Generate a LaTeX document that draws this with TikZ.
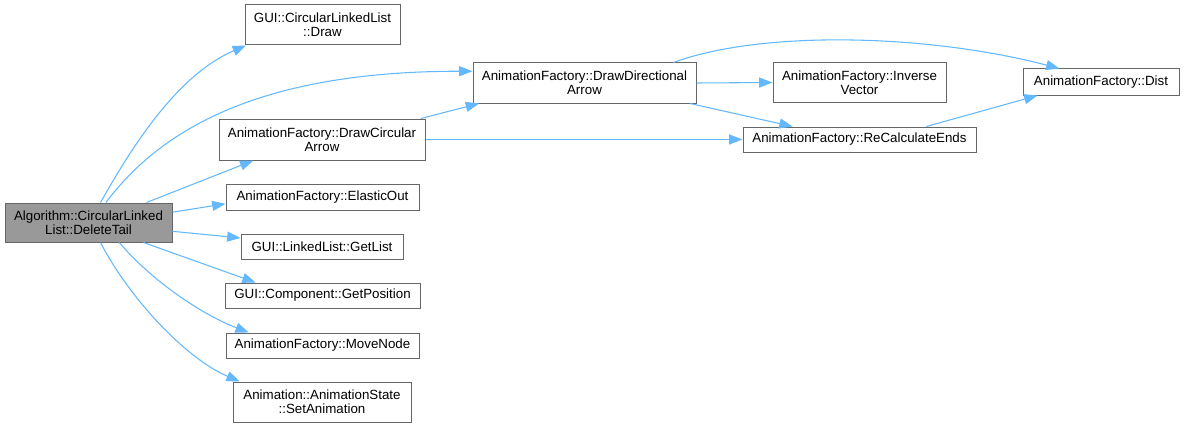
\documentclass[tikz,border=0pt]{standalone}
\usepackage{fontspec}
\setmainfont{Liberation Sans}
\usetikzlibrary{arrows.meta}
\definecolor{edgec}{HTML}{63B8FF}
\definecolor{bordc}{HTML}{666666}
\definecolor{rootc}{HTML}{999999}
\begin{document}
\begin{tikzpicture}[x=0.75pt,y=-0.75pt,
  box/.style={draw=bordc,line width=0.75pt,fill=white,inner sep=0pt,align=center,font=\fontsize{10}{10.8}\selectfont},
  rootbox/.style={box,fill=rootc},
  edge/.style={draw=edgec,line width=0.8pt,-{Triangle[length=10pt,width=7.5pt]}}]
\useasboundingbox (0,0) rectangle (1184,428);
\node[rootbox,minimum width=125.25pt,minimum height=29.25pt] (root) at (88.5,222.5) {Algorithm::CircularLinked\\List::DeleteTail};
\node[box,minimum width=116.25pt,minimum height=30pt] (draw) at (322.5,25) {GUI::CircularLinkedList\\::Draw};
\node[box,minimum width=154.5pt,minimum height=30.75pt] (dca) at (322,139.5) {AnimationFactory::DrawCircular\\Arrow};
\node[box,minimum width=167.25pt,minimum height=30pt] (dda) at (584.5,83) {AnimationFactory::DrawDirectional\\Arrow};
\node[box,minimum width=129.75pt,minimum height=29.25pt] (iv) at (859.5,82.5) {AnimationFactory::Inverse\\Vector};
\node[box,minimum width=117pt,minimum height=19.5pt] (dist) at (1101,82) {AnimationFactory::Dist};
\node[box,minimum width=174.75pt,minimum height=18.75pt] (rce) at (859.5,139.5) {AnimationFactory::ReCalculateEnds};
\node[box,minimum width=144.75pt,minimum height=19.5pt] (eo) at (322.5,197) {AnimationFactory::ElasticOut};
\node[box,minimum width=121.5pt,minimum height=18.75pt] (gl) at (322,246.5) {GUI::LinkedList::GetList};
\node[box,minimum width=146.25pt,minimum height=18.75pt] (gp) at (322.5,295.5) {GUI::Component::GetPosition};
\node[box,minimum width=144.75pt,minimum height=18.75pt] (mn) at (322.5,345.5) {AnimationFactory::MoveNode};
\node[box,minimum width=133.5pt,minimum height=30pt] (sa) at (322,402) {Animation::AnimationState\\::SetAnimation};
% edges
\draw[edge] (root.59.5) .. controls +(30,-53) and +(-70,30) .. (draw.195.4);
\draw[edge] (root.49.8) .. controls +(55,-73) and +(-213,0) .. (dda.174.4);
\draw[edge] (root.19.7) -- (dca.197.5);
\draw[edge] (root.7.2) -- (eo.184.7);
\draw[edge] (root.-6.5) -- (gl.174);
\draw[edge] (root.-20.7) -- (gp.169);
\draw[edge] (root.-33.5) .. controls +(32,38) and +(-47,-18) .. (mn.170.6);
\draw[edge] (root.-59.5) .. controls +(30,58) and +(-52,-22) .. (sa.166);
\draw[edge] (dca.12.4) -- (dda.191.7);
\draw[edge] (dca.0) -- (rce.180);
\draw[edge] (dda.13.2) .. controls +(90,-33) and +(-130,-34) .. (dist.162.4);
\draw[edge] (dda.0) -- (iv.180);
\draw[edge] (dda.-11.5) -- (rce.169.4);
\draw[edge] (rce.11.1) -- (dist.192.4);
\end{tikzpicture}
\end{document}
